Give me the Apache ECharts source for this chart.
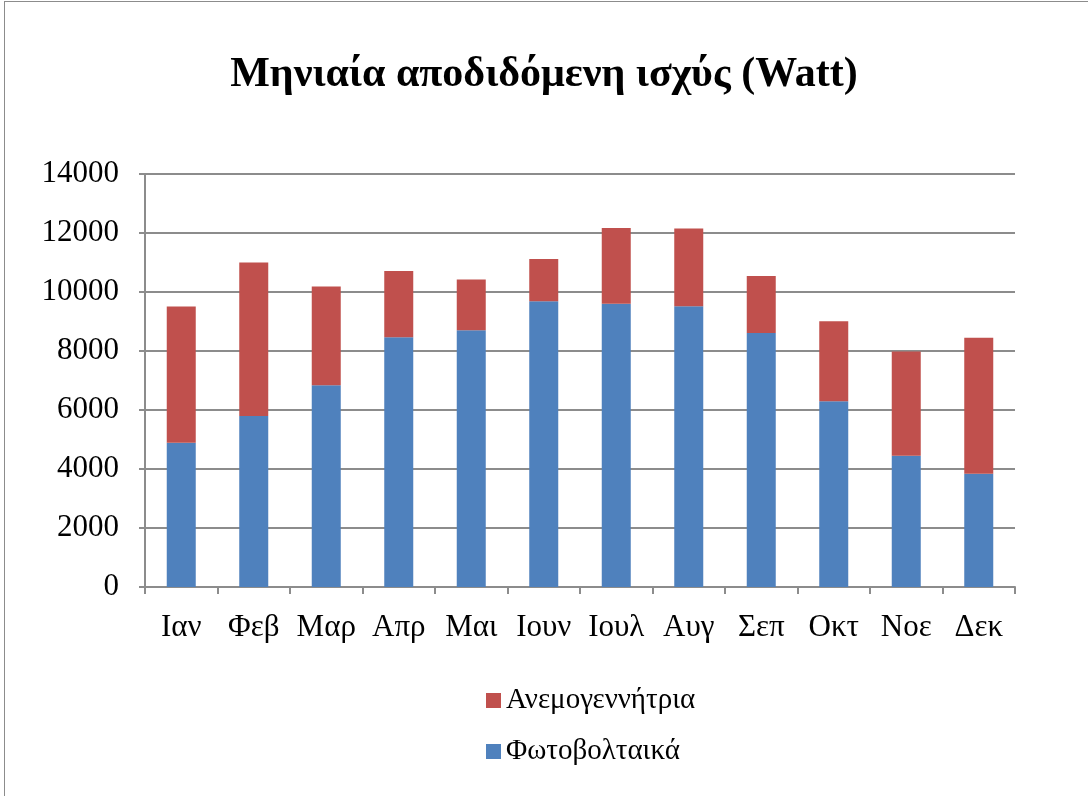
<!DOCTYPE html>
<html>
<head>
<meta charset="utf-8">
<script src="https://cdn.jsdelivr.net/npm/echarts@6/dist/echarts.min.js"></script>
<style>
  html, body { margin: 0; padding: 0; background: #fff; }
  #frame { position: absolute; left: 4px; top: 1px; width: 1200px; height: 900px; border-left: 1px solid #8c8c8c; border-top: 1px solid #8c8c8c; }
  #chart { position: absolute; left: 0; top: 0; width: 1088px; height: 796px; }
</style>
</head>
<body>
<div id="frame"></div>
<div id="chart"></div>
<script>
// data
const months = ['Ιαν', 'Φεβ', 'Μαρ', 'Απρ', 'Μαι', 'Ιουν', 'Ιουλ', 'Αυγ', 'Σεπ', 'Οκτ', 'Νοε', 'Δεκ'];
const solar = [4890, 5800, 6840, 8470, 8700, 9690, 9600, 9520, 8610, 6300, 4450, 3840];
const wind = [4620, 5200, 3350, 2240, 1720, 1430, 2570, 2630, 1930, 2710, 3530, 4610];

const chart = echarts.init(document.getElementById('chart'));

const serif = '"Liberation Serif", "DejaVu Serif", serif';
const gridColor = '#8c8c8c';

chart.setOption({
    animation: false,
    title: {
        text: 'Μηνιαία αποδιδόμενη ισχύς (Watt)',
        left: 'center',
        top: 49,
        textStyle: { fontFamily: serif, fontSize: 42, fontWeight: 'bold', color: '#000' }
    },
    legend: {
        orient: 'vertical',
        left: 481,
        top: 681,
        itemWidth: 15,
        itemHeight: 15,
        itemGap: 22,
        icon: 'rect',
        data: ['Ανεμογεννήτρια', 'Φωτοβολταικά'],
        textStyle: { fontFamily: serif, fontSize: 29, color: '#000' }
    },
    grid: { left: 145, right: 73, top: 174, bottom: 209 },
    xAxis: {
        type: 'category',
        data: months,
        axisLine: { lineStyle: { color: gridColor, width: 2 } },
        axisTick: { show: true, length: 7, lineStyle: { color: gridColor, width: 2 } },
        axisLabel: { fontFamily: serif, fontSize: 31, color: '#000', margin: 25, interval: 0, hideOverlap: false }
    },
    yAxis: {
        type: 'value',
        min: 0,
        max: 14000,
        interval: 2000,
        axisLine: { show: true, lineStyle: { color: gridColor, width: 2 } },
        axisTick: { show: true, length: 6, lineStyle: { color: gridColor, width: 2 } },
        axisLabel: { fontFamily: serif, fontSize: 31, color: '#000', margin: 26, formatter: v => String(v) },
        splitLine: { lineStyle: { color: gridColor, width: 2 } }
    },
    series: [
        {
            name: 'Φωτοβολταικά',
            type: 'bar',
            stack: 'total',
            barWidth: '40%',
            data: solar,
            itemStyle: { color: '#4f81bd' }
        },
        {
            name: 'Ανεμογεννήτρια',
            type: 'bar',
            stack: 'total',
            data: wind,
            itemStyle: { color: '#c0504d' }
        }
    ]
});
</script>
</body>
</html>
